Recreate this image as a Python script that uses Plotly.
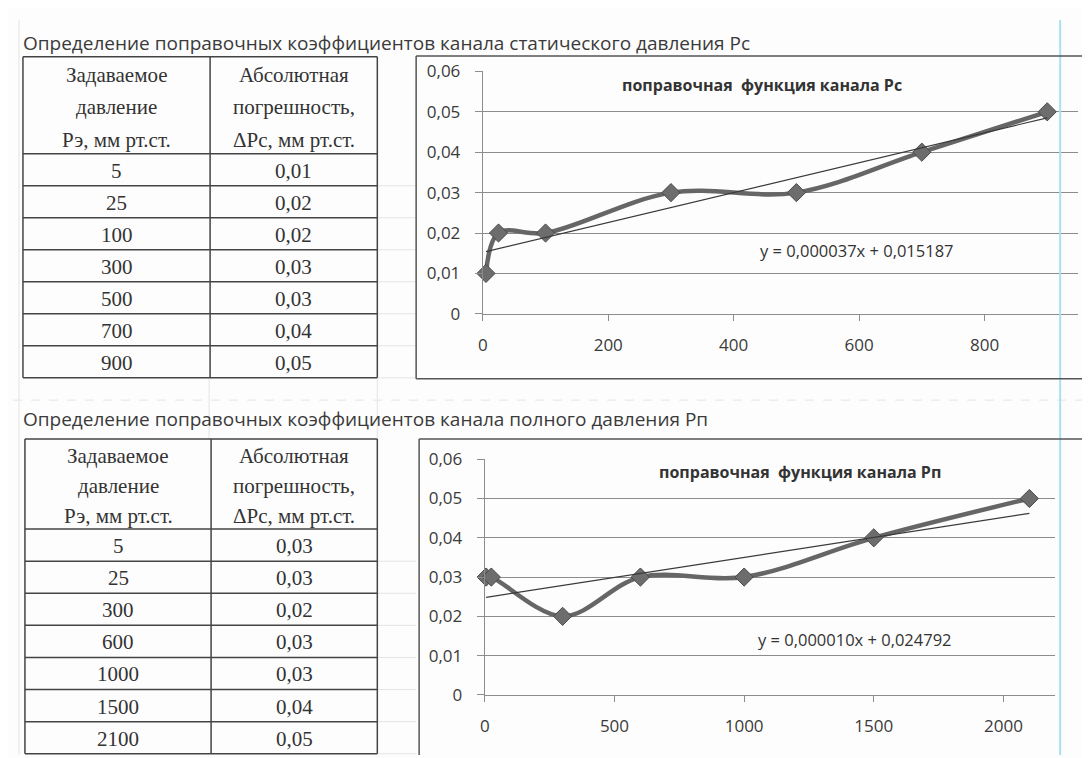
import plotly.graph_objects as go
import numpy as np

W, H = 1090, 758

# ---------------- data ----------------
title_rc = "Определение поправочных коэффициентов канала статического давления Рс"
title_rp = "Определение поправочных коэффициентов канала полного давления Рп"
header_col1 = ["Задаваемое", "давление", "Рэ, мм рт.ст."]
header_col2 = ["Абсолютная", "погрешность,", "ΔРс, мм рт.ст."]

pressure_rc = [5, 25, 100, 300, 500, 700, 900]
error_rc = [0.01, 0.02, 0.02, 0.03, 0.03, 0.04, 0.05]
pressure_rp = [5, 25, 300, 600, 1000, 1500, 2100]
error_rp = [0.03, 0.03, 0.02, 0.03, 0.03, 0.04, 0.05]

chart_title_rc = "поправочная  функция канала Рс"
chart_title_rp = "поправочная  функция канала Рп"

y_ticks = [0, 0.01, 0.02, 0.03, 0.04, 0.05, 0.06]
x_ticks_rc = [0, 200, 400, 600, 800]
x_ticks_rp = [0, 500, 1000, 1500, 2000]

# ---------------- helpers ----------------
def px(x):
    return x / W

def py(y):
    return 1 - y / H

def fmt_num(v):
    return f"{v:.2f}".replace(".", ",")

shapes = []
annotations = []

def hline(x0, x1, y, color="#444", width=1.5, dash=None):
    d = dict(type="line", xref="paper", yref="paper", x0=px(x0), x1=px(x1),
             y0=py(y), y1=py(y), line=dict(color=color, width=width))
    if dash:
        d["line"]["dash"] = dash
    shapes.append(d)

def vline(x, y0, y1, color="#444", width=1.5, dash=None):
    d = dict(type="line", xref="paper", yref="paper", x0=px(x), x1=px(x),
             y0=py(y0), y1=py(y1), line=dict(color=color, width=width))
    if dash:
        d["line"]["dash"] = dash
    shapes.append(d)

def text(x, y, s, size=21, family="Liberation Serif", color="#333",
         xanchor="center", bold=False):
    if bold:
        s = "<b>" + s + "</b>"
    annotations.append(dict(xref="paper", yref="paper", x=px(x), y=py(y),
                            text=s, showarrow=False, xanchor=xanchor,
                            yanchor="middle",
                            font=dict(family=family, size=size, color=color)))

# faint spreadsheet grid
faint = "#e4e4e4"
vline(6, 0, H, faint, 1)
hline(0, 1090, 392, faint, 1, "dash")
vline(197, 370, 432, faint, 1)
vline(366, 370, 432, faint, 1)

# cyan page guide
vline(1052, 0, H, "#a9e3ea", 2)

# ---------------- tables ----------------
def draw_table(top, header_bottom, row_h, xl, xm, xr, pressures, errors, header_lines):
    n = len(pressures)
    bottom = header_bottom + row_h * n
    hline(xl, xr, top)
    hline(xl, xr, header_bottom)
    for i in range(n):
        y = header_bottom + row_h * (i + 1)
        hline(xl, xr, y)
        hline(xr, 405, y, faint, 1)
    vline(xl, top, bottom)
    vline(xm, top, bottom)
    vline(xr, top, bottom)
    c1 = (xl + xm) / 2
    c2 = (xm + xr) / 2
    lh = (header_bottom - top) / 3.0
    for k in range(3):
        yy = top + lh * (k + 0.5) + 2
        text(c1, yy, header_col1[k])
        text(c2, yy, header_lines[k])
    for i, (p, e) in enumerate(zip(pressures, errors)):
        yy = header_bottom + row_h * (i + 0.5) + 1
        text(c1, yy, str(p))
        text(c2, yy, fmt_num(e))

draw_table(38, 138, 33.0, 10, 198, 366, pressure_rc, error_rc, header_col2)
draw_table(432, 525, 33.1, 12, 199, 366, pressure_rp, error_rp, header_col2)

# section titles
sans = "Open Sans"
text(8, 24, title_rc, size=19, family=sans, color="#3a3a3a", xanchor="left")
text(8, 411, title_rp, size=19, family=sans, color="#3a3a3a", xanchor="left")

# chart boxes
box = "#555"
vline(405, 37, 370, box, 1.5)
hline(405, 1090, 37, box, 1.5)
hline(405, 1090, 370, box, 1.5)
vline(408, 432, 758, box, 1.5)
hline(408, 1090, 432, box, 1.5)

# ---------------- charts ----------------
fig = go.Figure()

line_col = "#666666"
trend_col = "#3a3a3a"

def add_series(xs, ys, xa, ya):
    fig.add_trace(go.Scatter(
        x=xs, y=ys, mode="lines+markers", xaxis=xa, yaxis=ya,
        line=dict(color=line_col, width=4.5, shape="spline", smoothing=1),
        marker=dict(symbol="diamond", size=14, color="#6d6d6d",
                    line=dict(color="#4a4a4a", width=1)),
        cliponaxis=False, showlegend=False, hoverinfo="skip"))
    slope, intercept = np.polyfit(xs, ys, 1)
    tx = [min(xs), max(xs)]
    ty = [slope * v + intercept for v in tx]
    fig.add_trace(go.Scatter(
        x=tx, y=ty, mode="lines", xaxis=xa, yaxis=ya,
        line=dict(color=trend_col, width=1.2), showlegend=False,
        hoverinfo="skip"))
    eq = f"y = {slope:.6f}x + {intercept:.6f}".replace(".", ",")
    return eq

eq_rc = add_series(pressure_rc, error_rc, "x", "y")
eq_rp = add_series(pressure_rp, error_rp, "x2", "y2")

text(752, 67, chart_title_rc, size=16, family=sans, color="#333", bold=True)
text(848, 238, eq_rc, size=16.5, family=sans, color="#333")
text(791, 466, chart_title_rp, size=16, family=sans, color="#333", bold=True)
text(846, 639, eq_rp, size=16.5, family=sans, color="#333")

axis_font = dict(family=sans, size=17, color="#3a3a3a")
grid_col = "#8c8c8c"

def xaxis_cfg(domain, rng, ticks):
    return dict(domain=domain, range=rng, tickvals=ticks, showgrid=False,
                zeroline=False, showline=True, linecolor=grid_col, linewidth=1.2,
                ticks="outside", ticklen=6, tickcolor=grid_col, tickwidth=1.2,
                tickfont=axis_font, ticklabelstandoff=10, fixedrange=True)

def yaxis_cfg(domain, ticks, anchor):
    return dict(domain=domain, range=[0, 0.06], tickvals=ticks, showgrid=True,
                gridcolor=grid_col, gridwidth=1.2, zeroline=False, showline=True,
                linecolor=grid_col, linewidth=1.2, ticks="outside", ticklen=7,
                tickcolor=grid_col, tickwidth=1.2, tickfont=axis_font,
                ticklabelstandoff=11, anchor=anchor, fixedrange=True)

x1_max = (1070 - 472) / ((976 - 472) / 800.0)
x2_max = (1047 - 474) / ((995 - 474) / 2000.0)

fig.update_layout(
    width=W, height=H,
    margin=dict(l=0, r=0, t=0, b=0),
    paper_bgcolor="#fdfdfd", plot_bgcolor="rgba(0,0,0,0)",
    separators=", ",
    xaxis=xaxis_cfg([px(472), px(1070)], [0, x1_max], x_ticks_rc) | dict(anchor="y"),
    yaxis=yaxis_cfg([py(303), py(53)], y_ticks, "x"),
    xaxis2=xaxis_cfg([px(474), px(1047)], [0, x2_max], x_ticks_rp) | dict(anchor="y2"),
    yaxis2=yaxis_cfg([py(696), py(453)], y_ticks, "x2"),
    shapes=shapes,
    annotations=annotations,
)

fig.write_html("out.html")
